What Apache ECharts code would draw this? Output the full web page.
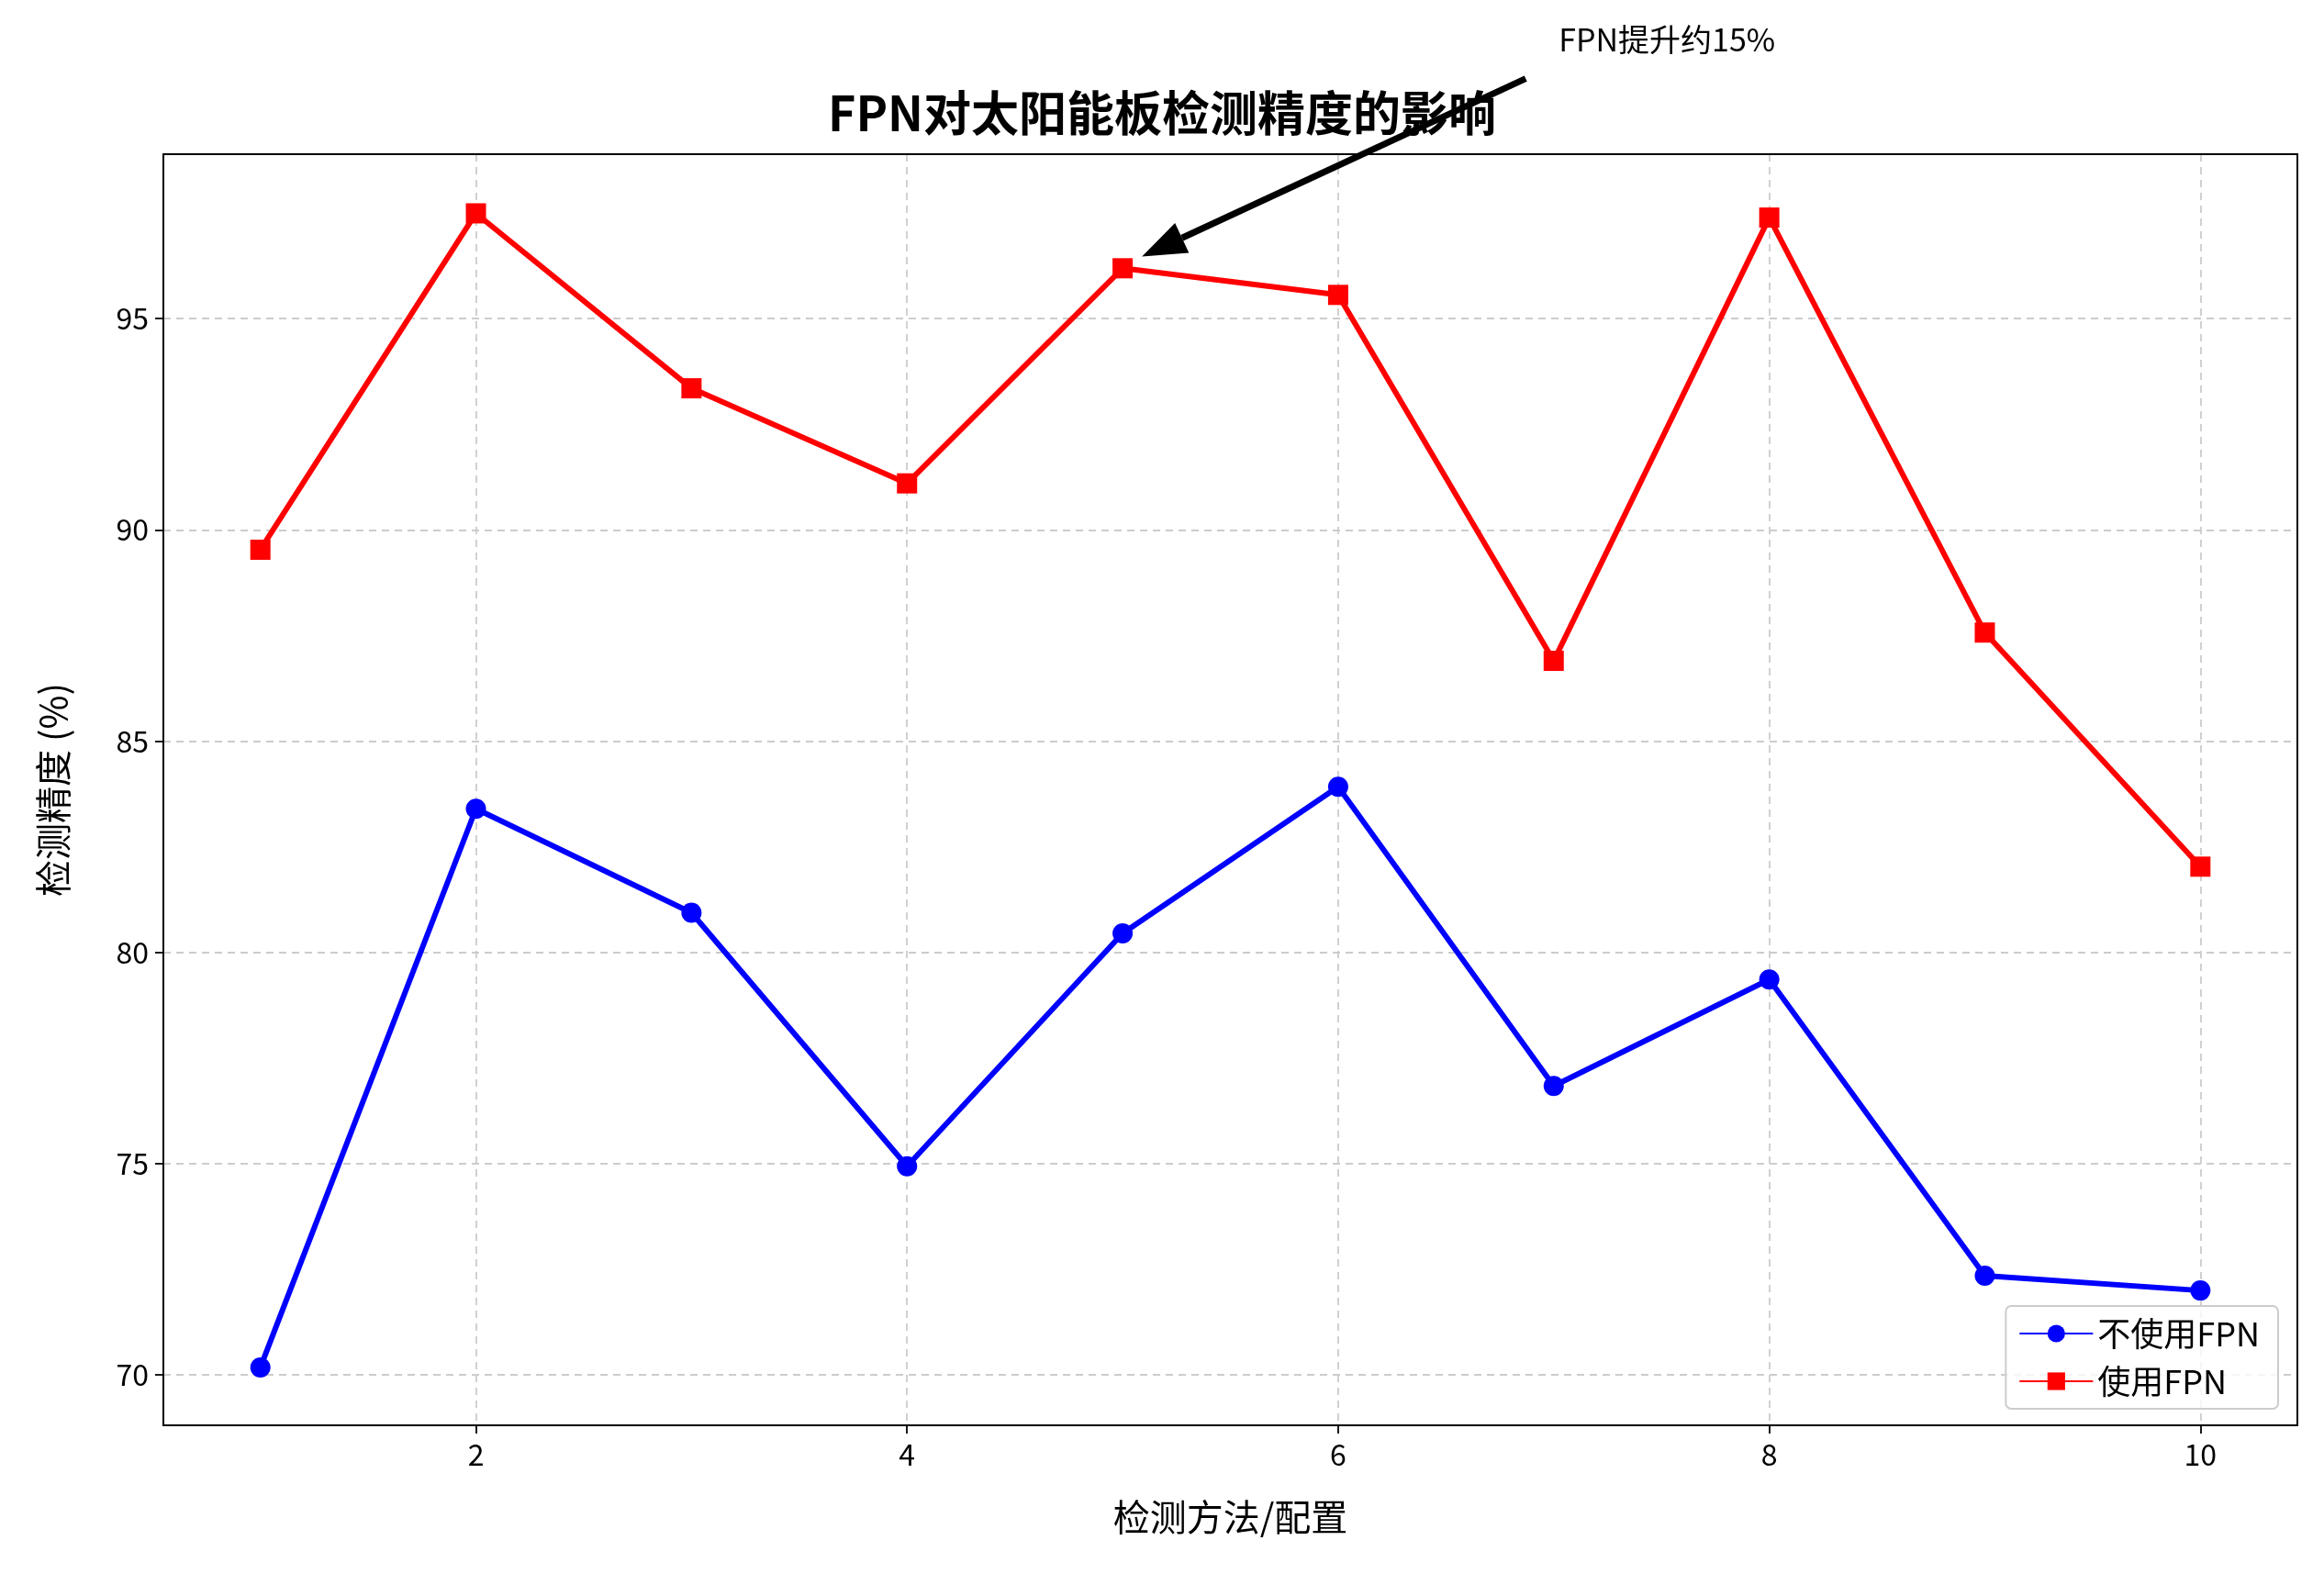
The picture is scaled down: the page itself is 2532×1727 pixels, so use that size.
<!DOCTYPE html>
<html><head><meta charset="utf-8">
<script src="https://cdn.jsdelivr.net/npm/echarts@6/dist/echarts.min.js"></script>
<style>html,body{margin:0;padding:0;background:#fff}#c{width:2532px;height:1727px}</style>
</head><body><div id="c"></div>
<script>
const xs = [1,2,3,4,5,6,7,8,9,10];
const noFpn = [70.18,83.4,80.94,74.94,80.45,83.92,76.84,79.36,72.35,72.0];
const withFpn = [89.53,97.49,93.35,91.1,96.19,95.56,86.9,97.39,87.57,82.03];
const xTicks = [2,4,6,8,10];
const yTicks = [70,75,80,85,90,95];
const annText = 'FPN提升约15%';
const annTip = [5.09,96.47], annTail = [6.87,100.68];

const F = '"Noto Sans CJK SC","Noto Sans",sans-serif';
const chart = echarts.init(document.getElementById('c'));
const pair = a => xs.map((x,i)=>[x,a[i]]);
const split = {show:true,lineStyle:{type:[8,6],color:'#cccccc',width:1.8}};
chart.setOption({
  backgroundColor:'#fff',
  animation:false,
  title:{text:'FPN对太阳能板检测精度的影响',left:'center',top:92,textStyle:{fontFamily:F,fontSize:52,fontWeight:'bold',color:'#000'}},
  grid:{left:178,right:29,top:168,bottom:174},
  xAxis:{type:'value',min:0.55,max:10.45,name:'检测方法/配置',nameLocation:'middle',nameGap:80,
    nameTextStyle:{fontFamily:F,fontSize:40,color:'#000'},
    axisLine:{show:true,lineStyle:{color:'#000',width:2}},
    axisTick:{show:true,customValues:xTicks,length:9,lineStyle:{color:'#000',width:1.8}},
    axisLabel:{customValues:xTicks,fontFamily:F,fontSize:32,color:'#000',margin:16},
    splitLine:split},
  yAxis:{type:'value',min:68.81,max:98.89,name:'检测精度 (%)',nameLocation:'middle',nameGap:100,
    nameTextStyle:{fontFamily:F,fontSize:40,color:'#000'},
    axisLine:{show:true,lineStyle:{color:'#000',width:2}},
    axisTick:{show:true,customValues:yTicks,length:9,lineStyle:{color:'#000',width:1.8}},
    axisLabel:{customValues:yTicks,fontFamily:F,fontSize:32,color:'#000',margin:16},
    splitLine:split},
  legend:{orient:'vertical',right:50,bottom:192,itemWidth:80,itemHeight:24,itemGap:16,
    padding:[12,20,12,14],backgroundColor:'rgba(255,255,255,0.8)',borderColor:'#ccc',borderWidth:2,borderRadius:6,
    textStyle:{fontFamily:F,fontSize:36,color:'#000'},z:50,
    data:['不使用FPN','使用FPN']},
  series:[
    {name:'不使用FPN',type:'line',data:pair(noFpn),symbol:'circle',symbolSize:22,
      lineStyle:{color:'#0000ff',width:6},itemStyle:{color:'#0000ff'}},
    {name:'使用FPN',type:'line',data:pair(withFpn),symbol:'rect',symbolSize:22,
      lineStyle:{color:'#ff0000',width:6},itemStyle:{color:'#ff0000'}}
  ]
});
const tip = chart.convertToPixel({gridIndex:0},annTip);
const tail = chart.convertToPixel({gridIndex:0},annTail);
const c0 = chart.convertToPixel({gridIndex:0},[0.55,98.89]);
const c1 = chart.convertToPixel({gridIndex:0},[10.45,68.81]);
const ang = Math.atan2(tip[1]-tail[1],tip[0]-tail[0]);
const hl=48, hw=18;
const bx = tip[0]-hl*Math.cos(ang), by = tip[1]-hl*Math.sin(ang);
const px = -Math.sin(ang), py = Math.cos(ang);
chart.setOption({graphic:[
  {type:'rect',shape:{x:c0[0],y:c0[1],width:c1[0]-c0[0],height:c1[1]-c0[1]},style:{fill:'none',stroke:'#000',lineWidth:2},z:40,silent:true},
  {type:'line',shape:{x1:tail[0],y1:tail[1],x2:bx,y2:by},style:{stroke:'#000',lineWidth:7},z:100},
  {type:'polygon',shape:{points:[tip,[bx+px*hw,by+py*hw],[bx-px*hw,by-py*hw]]},style:{fill:'#000'},z:100},
  {type:'text',x:tail[0]+36,y:tail[1]-60,style:{text:annText,fontFamily:F,fontSize:34,fill:'#000'},z:100}
]});
</script></body></html>
